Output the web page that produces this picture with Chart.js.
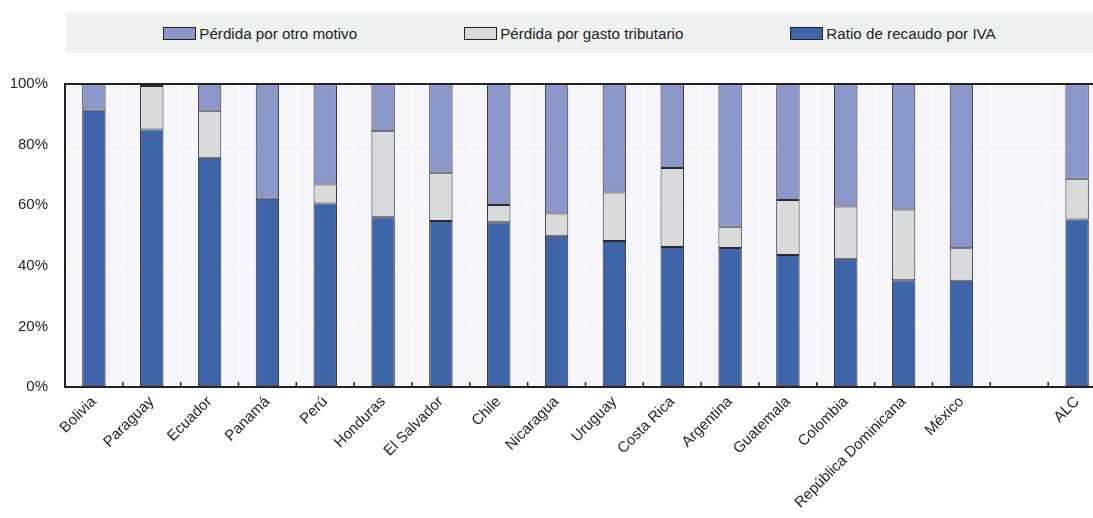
<!DOCTYPE html>
<html>
<head>
<meta charset="utf-8">
<script src="https://cdn.jsdelivr.net/npm/chart.js@4.4.1/dist/chart.umd.min.js"></script>
<style>
  body { margin: 0; width: 1093px; height: 518px; overflow: hidden; background: #fff; position: relative;
    font-family: "Liberation Sans", Arial, sans-serif; }
  #wrap { position: absolute; left: 0; top: 0; width: 1106px; height: 518px; }
  #legend { position: absolute; left: 66px; top: 13px; width: 1027px; height: 40px; background: #eff0f0;
    display: flex; justify-content: center; align-items: center; gap: 107px; z-index: 2; }
  .item { display: flex; align-items: center; font-size: 15.2px; color: #231f20; white-space: nowrap; }
  .box { width: 31px; height: 11px; border: 1px solid #222; margin-right: 3px; }
</style>
</head>
<body>
<div id="legend"></div>
<div id="wrap"><canvas id="myChart"></canvas></div>
<script>
// categories
const countries = ["Bolivia", "Paraguay", "Ecuador", "Panamá", "Perú", "Honduras", "El Salvador", "Chile",
  "Nicaragua", "Uruguay", "Costa Rica", "Argentina", "Guatemala", "Colombia", "República Dominicana",
  "México", "", "ALC"];

// series (% of potential VAT)
const ratioIVA = [91.2, 85.0, 75.7, 62.1, 60.6, 56.0, 54.8, 54.4, 49.9, 48.2, 46.2, 45.9, 43.6, 42.3, 35.2, 35.1, null, 55.3];
const gastoTributario = [0, 14.3, 15.5, 0, 6.2, 28.4, 15.9, 5.7, 7.4, 16.0, 26.1, 7.0, 18.1, 17.3, 23.4, 10.7, null, 13.4];
const otroMotivo = [8.8, 0.7, 8.8, 37.9, 33.2, 15.6, 29.3, 39.9, 42.7, 35.8, 27.7, 47.1, 38.3, 40.4, 41.4, 54.2, null, 31.3];

const yTicks = [0, 20, 40, 60, 80, 100];

const seriesNames = ["Ratio de recaudo por IVA", "Pérdida por gasto tributario", "Pérdida por otro motivo"];
const seriesColors = ["#3e64aa", "#d9dadb", "#8b97c9"];

const fontName = '"Liberation Sans", Arial, sans-serif';

//legend (reversed order, like the original)
let legend = document.getElementById("legend");
for (let i = seriesNames.length - 1; i >= 0; i--) {
  let item = document.createElement("div");
  item.className = "item";
  let box = document.createElement("span");
  box.className = "box";
  box.style.background = seriesColors[i];
  item.appendChild(box);
  item.appendChild(document.createTextNode(seriesNames[i]));
  legend.appendChild(item);
}

// frame top line + small inner ticks on x axis
const framePlugin = {
  id: "frame",
  afterDatasetsDraw(chart) {
    const ctx = chart.ctx;
    const a = chart.chartArea;
    const x = chart.scales.x;
    const w = (a.right - a.left) / countries.length;
    ctx.save();
    ctx.strokeStyle = "#222";
    ctx.lineWidth = 2;
    ctx.beginPath();
    ctx.moveTo(a.left - 1, a.top);
    ctx.lineTo(a.right, a.top);
    ctx.stroke();
    ctx.lineWidth = 1.5;
    for (let i = 1; i < countries.length; i++) {
      let px = x.getPixelForValue(i) - w / 2;
      ctx.beginPath();
      ctx.moveTo(px, a.bottom);
      ctx.lineTo(px, a.bottom - 5);
      ctx.stroke();
    }
    ctx.restore();
  },
  beforeDraw(chart) {
    const a = chart.chartArea;
    chart.ctx.save();
    chart.ctx.fillStyle = "#f5f5fa";
    chart.ctx.fillRect(a.left, a.top, a.right - a.left, a.bottom - a.top);
    chart.ctx.restore();
  },
};

function makeSet(i, data) {
  return {
    label: seriesNames[i],
    data: data,
    backgroundColor: seriesColors[i],
    borderColor: "#2a2a2a",
    borderWidth: 1,
    borderSkipped: false,
    categoryPercentage: 1,
    barPercentage: 0.405,
  };
}

new Chart("myChart", {
  type: "bar",
  data: {
    labels: countries,
    datasets: [makeSet(0, ratioIVA), makeSet(1, gastoTributario), makeSet(2, otroMotivo)],
  },
  plugins: [framePlugin],
  options: {
    responsive: true,
    maintainAspectRatio: false,
    animation: false,
    layout: { padding: { top: 84, left: 0, right: 0, bottom: 0 } },
    plugins: { legend: { display: false }, tooltip: { enabled: false } },
    scales: {
      x: {
        stacked: true,
        grid: { color: "#ffffff", lineWidth: 1.5, offset: true, drawTicks: false },
        border: { display: true, color: "#222", width: 2 },
        ticks: {
          color: "#231f20",
          font: { family: fontName, size: 15 },
          minRotation: 45,
          maxRotation: 45,
          autoSkip: false,
          padding: 6,
        },
        afterFit(scale) {
          scale.height = 131;
          scale.paddingLeft = 0;
          scale.paddingRight = 0;
        },
      },
      y: {
        stacked: true,
        min: 0,
        max: 100,
        afterBuildTicks(scale) {
          scale.ticks = yTicks.map((v) => ({ value: v }));
        },
        grid: { color: "#ffffff", lineWidth: 1.5, drawTicks: false },
        border: { display: true, color: "#222", width: 2 },
        ticks: {
          color: "#231f20",
          font: { family: fontName, size: 15 },
          padding: 17,
          callback: (v) => v + "%",
        },
        afterFit(scale) {
          scale.width = 65;
          scale.paddingTop = 0;
          scale.paddingBottom = 0;
        },
      },
    },
  },
});
</script>
</body>
</html>
